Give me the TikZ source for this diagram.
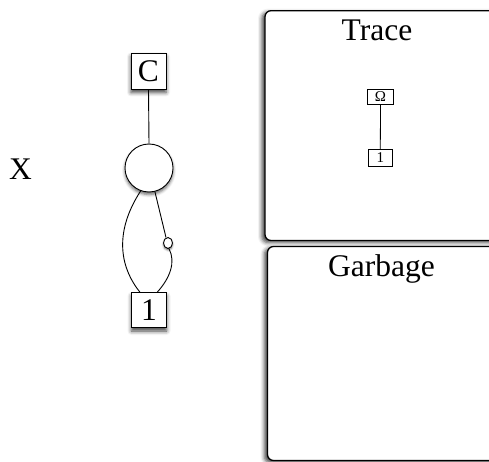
\documentclass[tikz,border=0pt]{standalone}
\usepackage{fontspec}
\setmainfont{Liberation Serif}
\usetikzlibrary{shapes.geometric,shadows.blur}

\tikzset{
  big/.style={font=\fontsize{31.5}{31.5}\selectfont},
  small/.style={font=\fontsize{15}{15}\selectfont},
  valbox/.style={draw, line width=0.9pt, fill=white, inner sep=0pt,
    minimum width=35pt, minimum height=35pt, big,
    blur shadow={shadow xshift=0pt, shadow yshift=-3.5pt, shadow blur radius=4pt, shadow opacity=75}},
  tinybox/.style={draw, line width=0.8pt, fill=white, inner sep=0pt, small},
  panel/.style={draw, line width=1.3pt, fill=white, rounded corners=6pt,
    blur shadow={shadow xshift=-3pt, shadow yshift=-2pt, shadow blur radius=4pt, shadow opacity=75}},
  wire/.style={line width=0.9pt},
}

\begin{document}
\begin{tikzpicture}[x=1pt,y=-1pt]
  \useasboundingbox (0,0) rectangle (489,462);

  % left-hand term
  \node[big, anchor=base] (xlabel) at (20.5,179.3) {X};
  \node[valbox, minimum height=36pt] (c) at (148.5,71) {C};
  \node[draw, wire, circle, fill=white, minimum size=48pt, inner sep=0pt,
        blur shadow={shadow xshift=0pt, shadow yshift=-2.5pt, shadow blur radius=3pt, shadow opacity=60}] (r) at (149,168) {};
  \node[draw, wire, ellipse, fill=white, minimum width=9pt, minimum height=11pt, inner sep=0pt,
        blur shadow={shadow xshift=0pt, shadow yshift=-1.5pt, shadow blur radius=2pt, shadow opacity=60}] (s) at (168,243) {};
  \node[valbox] (one) at (149,310) {1};

  \draw[wire] (c.south) -- (r.north);
  \draw[wire] (r.-110) .. controls (112,235) and (122,270) .. (one.117);
  \draw[wire] (r.-76) -- (s.110);
  \draw[wire] (s.-80) .. controls (176,262) and (170,278) .. (one.65);

  % trace panel
  \path[panel] (265,10.7) rectangle (500,240.5);
  \node[big, anchor=base] (trace) at (377,40.7) {Trace};
  \node[tinybox, minimum width=25.6pt, minimum height=15pt] (omega) at (380.5,96.8) {Ω};
  \node[tinybox, minimum width=24pt, minimum height=16.7pt] (tone) at (380.3,157.7) {1};
  \draw[line width=0.8pt] (omega.south) -- (tone.north);

  % garbage panel
  \path[panel] (267.5,246.5) rectangle (500,460.5);
  \node[big, anchor=base] (garbage) at (381.5,276.7) {Garbage};
\end{tikzpicture}
\end{document}
